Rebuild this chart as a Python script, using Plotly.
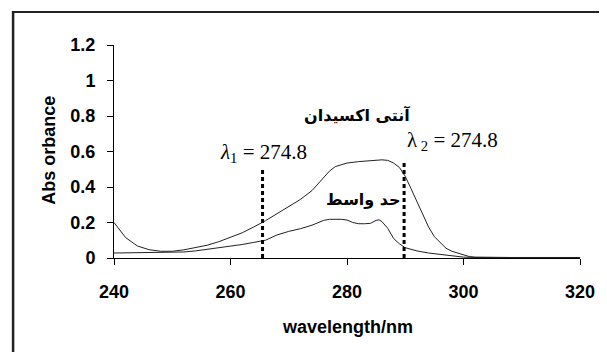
import plotly.graph_objects as go

# Antioxidant (upper curve)
wl_anti = [240, 242, 244, 246, 248, 250, 252, 254, 256, 258, 260, 262, 264, 266, 268,
           270, 272, 274, 276, 277, 278, 280, 282, 284, 286, 287, 288, 289, 290, 291,
           292, 293, 294, 295, 296, 297, 298, 299, 300, 301, 302, 305, 310, 320]
abs_anti = [0.200, 0.115, 0.068, 0.047, 0.038, 0.038, 0.046, 0.058, 0.072, 0.092, 0.118,
            0.142, 0.175, 0.210, 0.250, 0.290, 0.330, 0.380, 0.450, 0.490, 0.515, 0.535,
            0.543, 0.550, 0.553, 0.550, 0.535, 0.510, 0.460, 0.390, 0.320, 0.245, 0.175,
            0.120, 0.085, 0.055, 0.038, 0.028, 0.020, 0.008, 0.005, 0.003, 0.002, 0.002]

# Intermediate (lower curve)
wl_mid = [240, 250, 252, 254, 256, 258, 260, 262, 264, 266, 268, 270, 272, 274, 276, 277,
          279, 280, 281, 282, 283, 284, 285, 285.5, 286, 287, 288, 289, 290, 291, 292, 294,
          296, 298, 300, 302, 320]
abs_mid = [0.028, 0.030, 0.034, 0.040, 0.048, 0.058, 0.066, 0.076, 0.088, 0.100, 0.130,
           0.150, 0.165, 0.185, 0.212, 0.218, 0.218, 0.214, 0.200, 0.193, 0.193, 0.195,
           0.212, 0.215, 0.205, 0.167, 0.110, 0.080, 0.058, 0.048, 0.040, 0.028, 0.020,
           0.012, 0.005, 0.003, 0.003]

# Marker lines (wavelength, top absorbance)
marker_x = [265.5, 289.8]
marker_top = [0.513, 0.541]

x_ticks = [240, 260, 280, 300, 320]
y_ticks = [0, 0.2, 0.4, 0.6, 0.8, 1, 1.2]
y_tick_text = ["0", "0.2", "0.4", "0.6", "0.8", "1", "1.2"]

label_anti = "آنتی اکسیدان"
label_mid = "حد واسط"
x_title = "wavelength/nm"
y_title = "Abs orbance"

fig = go.Figure()
fig.add_trace(go.Scatter(x=wl_anti, y=abs_anti, mode="lines",
                         line=dict(color="#222222", width=1), showlegend=False))
fig.add_trace(go.Scatter(x=wl_mid, y=abs_mid, mode="lines",
                         line=dict(color="#222222", width=1), showlegend=False))
for mx, mt in zip(marker_x, marker_top):
    fig.add_trace(go.Scatter(x=[mx, mx], y=[0, mt], mode="lines",
                             line=dict(color="black", width=3, dash="4px,3px"),
                             showlegend=False))

bold = dict(family="Liberation Sans, Arial", size=18, color="black", weight="bold")

# page has an 8px body margin: figure is placed at (8, 8)
OFF = 8
W, H = 607 - OFF, 352 - OFF
PL, PR, PT, PB = 114, 585, 45, 258   # plot area in page pixels

fig.update_layout(
    width=W, height=H,
    margin=dict(l=PL - OFF, r=607 - PR, t=PT - OFF, b=H - (PB - OFF)),
    paper_bgcolor="white", plot_bgcolor="white",
    xaxis=dict(range=[240, 320], tickvals=x_ticks, showline=True, linecolor="black",
               linewidth=1, ticks="outside", ticklen=6, tickcolor="black", tickwidth=1,
               showgrid=False, zeroline=False, tickfont=bold, ticklabelstandoff=11),
    yaxis=dict(range=[0, 1.2], tickvals=y_ticks, ticktext=y_tick_text, showline=True,
               linecolor="black", linewidth=1, ticks="outside", ticklen=6,
               tickcolor="black", tickwidth=1, showgrid=False, zeroline=False,
               tickfont=bold, ticklabelstandoff=8),
    modebar=dict(bgcolor="rgba(0,0,0,0)"),
)

pw = PR - PL
ph = PB - PT

def px(xp):
    return (xp - PL) / pw

def py(yp):
    return (PB - yp) / ph

# outer frame: top and left edges visible in the picture
fig.add_shape(type="rect", xref="paper", yref="paper",
              x0=px(11), x1=px(606), y0=py(13), y1=py(11),
              line=dict(width=0), fillcolor="#222222", layer="above")
fig.add_shape(type="line", xref="paper", yref="paper",
              x0=px(12), x1=px(12), y0=py(11), y1=py(360),
              line=dict(color="#222222", width=2.5))

fig.add_annotation(xref="paper", yref="paper", x=px(350), y=py(327), text=x_title,
                   showarrow=False, font=dict(family="Liberation Sans, Arial", size=18,
                                               color="black", weight="bold"),
                   xanchor="center", yanchor="middle")
fig.add_annotation(xref="paper", yref="paper", x=px(48), y=py(150), text=y_title,
                   showarrow=False, textangle=-90,
                   font=dict(family="Liberation Sans, Arial", size=18, color="black",
                             weight="bold"),
                   xanchor="center", yanchor="middle")

fig.add_annotation(x=281.8, y=0.806, text=label_anti, showarrow=False,
                   font=dict(family="DejaVu Sans", size=16, color="black", weight="bold"),
                   xanchor="center", yanchor="middle")
fig.add_annotation(x=282.8, y=0.327, text=label_mid, showarrow=False,
                   font=dict(family="DejaVu Sans", size=16, color="black", weight="bold"),
                   xanchor="center", yanchor="middle")

serif = dict(family="Liberation Serif, Times New Roman", size=21, color="black")
fig.add_annotation(x=257.8, y=0.59, text="<i>λ</i><sub>1</sub> = 274.8", showarrow=False,
                   font=serif, xanchor="left", yanchor="middle")
fig.add_annotation(x=290.0, y=0.66, text="λ<sub> 2</sub> = 274.8", showarrow=False,
                   font=serif, xanchor="left", yanchor="middle")

fig.write_html("out.html")
